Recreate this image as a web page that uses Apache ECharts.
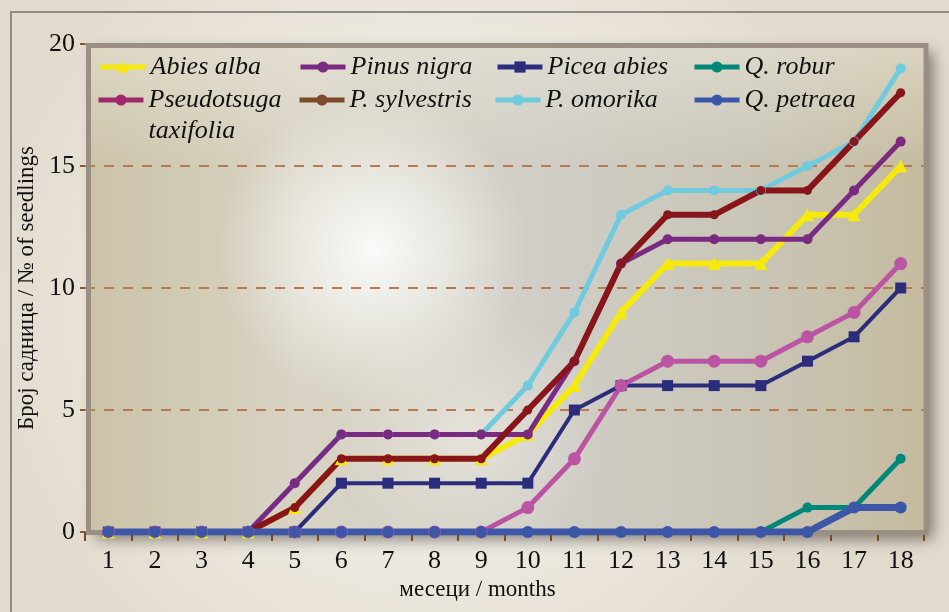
<!DOCTYPE html>
<html>
<head>
<meta charset="utf-8">
<script src="https://cdn.jsdelivr.net/npm/echarts@6/dist/echarts.min.js"></script>
<style>
  html, body { margin: 0; padding: 0; background: #ebe6dd; }
  #chart { width: 949px; height: 612px; }
</style>
</head>
<body>
<div id="chart"></div>
<script>
// Months since sowing
const months = ['1','2','3','4','5','6','7','8','9','10','11','12','13','14','15','16','17','18'];

// Number of seedlings per species
const abiesAlba    = [0,0,0,0,1,3,3,3,3,4,6,9,11,11,11,13,13,15];
const pinusNigra   = [0,0,0,0,2,4,4,4,4,4,7,11,12,12,12,12,14,16];
const piceaAbies   = [0,0,0,0,0,2,2,2,2,2,5,6,6,6,6,7,8,10];
const qRobur       = [0,0,0,0,0,0,0,0,0,0,0,0,0,0,0,1,1,3];
const pseudotsuga  = [0,0,0,0,0,0,0,0,0,1,3,6,7,7,7,8,9,11];
const pSylvestris  = [0,0,0,0,1,3,3,3,3,5,7,11,13,13,14,14,16,18];
const pOmorika     = [0,0,0,0,2,4,4,4,4,6,9,13,14,14,14,15,16,19];
const qPetraea     = [0,0,0,0,0,0,0,0,0,0,0,0,0,0,0,0,1,1];

// Y axis ticks
const yTicks = [0, 5, 10, 15, 20];

const SERIF = "'Liberation Serif', 'Times New Roman', serif";

// name, values, line colour, legend colour, line width, symbol, symbol size
const speciesList = [
  { name: 'P. omorika',            data: pOmorika,    color: '#6fcbdd', legendColor: '#6fcbdd', width: 5, symbol: 'circle',   size: 10 },
  { name: 'Picea abies',           data: piceaAbies,  color: '#2b2c7c', legendColor: '#2b2c7c', width: 4, symbol: 'rect',     size: 11 },
  { name: 'Pseudotsuga taxifolia', data: pseudotsuga, color: '#bb55a3', legendColor: '#9e2a6b', width: 5, symbol: 'circle',   size: 13 },
  { name: 'Abies alba',            data: abiesAlba,   color: '#f6e90c', legendColor: '#f6e90c', width: 6, symbol: 'triangle', size: 13 },
  { name: 'Pinus nigra',           data: pinusNigra,  color: '#7b2a82', legendColor: '#7b2a82', width: 5, symbol: 'circle',   size: 10 },
  { name: 'P. sylvestris',         data: pSylvestris, color: '#87151a', legendColor: '#7e4b2a', width: 6, symbol: 'circle',   size: 9 },
  { name: 'Q. robur',              data: qRobur,      color: '#00877a', legendColor: '#00877a', width: 5, symbol: 'circle',   size: 10 },
  { name: 'Q. petraea',            data: qPetraea,    color: '#3c56a8', legendColor: '#3c56a8', width: 7, symbol: 'circle',   size: 12 }
];

// Legend layout: four columns, two rows
const legendSlots = [
  { name: 'Abies alba',            left: 98,  row: 67 },
  { name: 'Pinus nigra',           left: 298, row: 67 },
  { name: 'Picea abies',           left: 495, row: 67 },
  { name: 'Q. robur',              left: 692, row: 67 },
  { name: 'Pseudotsuga taxifolia', left: 96,  row: 100, wrap: true },
  { name: 'P. sylvestris',         left: 297, row: 100 },
  { name: 'P. omorika',            left: 493, row: 100 },
  { name: 'Q. petraea',            left: 692, row: 100 }
];

const LINE_H = 31;
const ICON_H = 14;

const legends = legendSlots.map(function (slot) {
  const sp = speciesList.find(function (s) { return s.name === slot.name; });
  const lines = slot.wrap ? 3 : 1;
  // the wrapped name gets an empty leading line so its first line sits beside the icon
  const top = slot.row - ICON_H / 2 - (LINE_H * lines / 2 - ICON_H / 2);
  return {
    left: slot.left,
    top: top,
    padding: 0,
    itemWidth: 45,
    itemHeight: ICON_H,
    selectedMode: false,
    formatter: slot.wrap ? function (n) { return '\n' + n.replace(' ', '\n'); } : '{name}',
    textStyle: {
      fontFamily: SERIF, fontStyle: 'italic', fontSize: 26, color: '#111', lineHeight: LINE_H
    },
    data: [{
      name: sp.name,
      itemStyle: { color: sp.legendColor },
      lineStyle: { color: sp.legendColor, width: 5 }
    }]
  };
});

// Plot frame geometry
const frame = { x: 88.5, y: 45.5, w: 837.5, h: 487 };

const option = {
  animation: false,
  backgroundColor: '#ebe6dd',
  grid: { left: 85, right: 25, top: 44, bottom: 80 },
  legend: legends,
  graphic: [
    { // page background
      type: 'rect', z: -30, silent: true,
      shape: { x: 0, y: 0, width: 949, height: 612 },
      style: {
        fill: new echarts.graphic.RadialGradient(0.45, 0.5, 0.75, [
          { offset: 0, color: '#f5f3ee' },
          { offset: 0.6, color: '#ece7de' },
          { offset: 1, color: '#e2dacd' }
        ])
      }
    },
    { // outer border
      type: 'polyline', z: -29, silent: true,
      shape: { points: [[11, 612], [11, 12], [949, 12]] },
      style: { stroke: '#8e8a86', lineWidth: 2, fill: null }
    },
    { // plot area base with drop shadow
      type: 'rect', z: -20, silent: true,
      shape: { x: frame.x, y: frame.y, width: frame.w, height: frame.h },
      style: {
        fill: new echarts.graphic.LinearGradient(0, 0, 1, 0, [
          { offset: 0, color: '#cbc3a8' },
          { offset: 0.25, color: '#d8d3c4' },
          { offset: 0.55, color: '#cfcdc6' },
          { offset: 0.8, color: '#c9c5b6' },
          { offset: 1, color: '#c4bb9e' }
        ]),
        shadowBlur: 14, shadowOffsetX: 7, shadowOffsetY: 6,
        shadowColor: 'rgba(40,35,30,0.55)'
      }
    },
    { // top haze behind the legend
      type: 'rect', z: -19, silent: true,
      shape: { x: frame.x, y: frame.y, width: frame.w, height: frame.h },
      style: {
        fill: new echarts.graphic.LinearGradient(0, 0, 0, 1, [
          { offset: 0, color: 'rgba(236,232,220,0.55)' },
          { offset: 0.25, color: 'rgba(236,232,220,0)' },
          { offset: 1, color: 'rgba(236,232,220,0)' }
        ])
      }
    },
    { // bright glow
      type: 'rect', z: -18, silent: true,
      shape: { x: frame.x, y: frame.y, width: frame.w, height: frame.h },
      style: {
        fill: new echarts.graphic.RadialGradient(0.34, 0.42, 0.32, [
          { offset: 0, color: 'rgba(255,255,255,0.9)' },
          { offset: 0.5, color: 'rgba(248,248,245,0.55)' },
          { offset: 1, color: 'rgba(245,245,240,0)' }
        ])
      }
    },
    { // lower soft light
      type: 'rect', z: -17, silent: true,
      shape: { x: frame.x, y: frame.y, width: frame.w, height: frame.h },
      style: {
        fill: new echarts.graphic.RadialGradient(0.45, 0.8, 0.28, [
          { offset: 0, color: 'rgba(240,238,230,0.6)' },
          { offset: 1, color: 'rgba(240,238,230,0)' }
        ])
      }
    },
    { // frame
      type: 'rect', z: 1, silent: true,
      shape: { x: frame.x, y: frame.y, width: frame.w, height: frame.h },
      style: { fill: null, stroke: '#9b8f84', lineWidth: 5 }
    }
  ],
  xAxis: {
    type: 'category',
    data: months,
    boundaryGap: true,
    name: 'месеци / months',
    nameLocation: 'middle',
    nameGap: 45,
    nameTextStyle: { fontFamily: SERIF, fontSize: 23, color: '#111', padding: [0, 54, 0, 0] },
    axisLine: { show: false },
    axisTick: { show: true, length: 9, lineStyle: { color: '#7a4a1e', width: 2 } },
    axisLabel: { fontFamily: SERIF, fontSize: 26, color: '#111', margin: 16 },
    splitLine: { show: false }
  },
  yAxis: {
    type: 'value',
    min: yTicks[0],
    max: yTicks[yTicks.length - 1],
    interval: yTicks[1] - yTicks[0],
    name: 'Број садница / № of seedlings',
    nameLocation: 'middle',
    nameGap: 44,
    nameTextStyle: { fontFamily: SERIF, fontSize: 23, color: '#111' },
    axisLine: { show: false },
    axisTick: { show: true, length: 5, lineStyle: { color: '#8b5a2b', width: 2 } },
    axisLabel: { fontFamily: SERIF, fontSize: 26, color: '#111', margin: 10 },
    splitLine: { show: true, lineStyle: { color: '#b97a4f', width: 2, type: [10, 9] } }
  },
  series: speciesList.map(function (sp) {
    return {
      name: sp.name,
      type: 'line',
      data: sp.data,
      symbol: sp.symbol,
      symbolSize: sp.size,
      showAllSymbol: true,
      lineStyle: { color: sp.color, width: sp.width },
      itemStyle: { color: sp.color },
      emphasis: { disabled: true }
    };
  })
};

const chart = echarts.init(document.getElementById('chart'), null, { renderer: 'canvas' });
chart.setOption(option);
</script>
</body>
</html>
